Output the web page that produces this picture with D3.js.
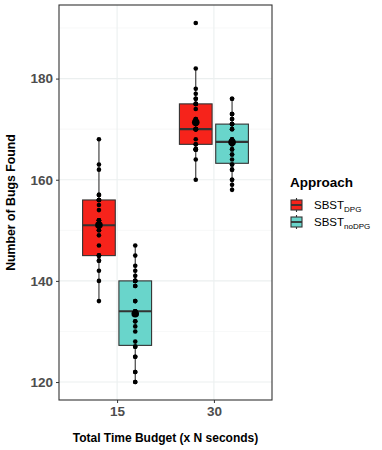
<!DOCTYPE html>
<html>
<head>
<meta charset="utf-8">
<script src="https://cdn.jsdelivr.net/npm/d3@7"></script>
<style>
  body { margin: 0; background: #fff; }
  text { font-family: "Liberation Sans", Arial, sans-serif; }
</style>
</head>
<body>
<script>
// budgets on the x axis and the two approaches
var budgets = ["15", "30"]
var approaches = ["SBST_DPG", "SBST_noDPG"]
var legendSubs = ["DPG", "noDPG"]
var yTicks = [120, 140, 160, 180]

// bugs found per run (30 runs per cell)
var dpg15 = [136, 140, 142, 144, 144, 145, 145, 145, 145, 147, 149, 150, 150, 151, 151,
             151, 152, 152, 152, 154, 155, 156, 156, 156, 156, 157, 157, 162, 163, 168]
var nodpg15 = [120, 120, 122, 122, 125, 125, 127, 127, 128, 130, 131, 132, 132, 134, 134,
               134, 134, 136, 136, 139, 139, 140, 140, 140, 140, 141, 142, 143, 145, 147]
var dpg30 = [160, 164, 166, 166, 166, 166, 166, 167, 167, 168, 170, 170, 170, 170, 170,
             170, 171, 171, 172, 172, 174, 175, 175, 175, 176, 176, 177, 178, 182, 191]
var nodpg30 = [158, 159, 160, 160, 162, 162, 163, 163, 164, 165, 165, 166, 166, 167, 167,
               168, 168, 170, 170, 171, 171, 171, 171, 172, 172, 173, 173, 173, 176, 176]

var colors = ["#F6231B", "#69D5CB"]

var groups = [
  {budget: "15", approach: "SBST_DPG", values: dpg15},
  {budget: "15", approach: "SBST_noDPG", values: nodpg15},
  {budget: "30", approach: "SBST_DPG", values: dpg30},
  {budget: "30", approach: "SBST_noDPG", values: nodpg30}
]

var width = 382, height = 450
var panel = {left: 59, right: 272, top: 5, bottom: 400}

var svg = d3.select("body").append("svg")
  .attr("width", width)
  .attr("height", height)

// scales
var allVals = [].concat(dpg15, nodpg15, dpg30, nodpg30)
var ext = d3.extent(allVals)
var pad = (ext[1] - ext[0]) * 0.05
var y = d3.scaleLinear().domain([ext[0] - pad, ext[1] + pad]).range([panel.bottom, panel.top])
var x = d3.scalePoint().domain(budgets).range([panel.left, panel.right]).padding(0.6)
var step = x.step()
var xSub = d3.scaleBand().domain(approaches)
  .range([-0.375 * step, 0.375 * step])
  .paddingInner(0.1).paddingOuter(0.05)
var color = d3.scaleOrdinal().domain(approaches).range(colors)

// grid
var minor = d3.range(130, 200, 20)
svg.append("g").selectAll("line").data(minor).enter().append("line")
  .attr("x1", panel.left).attr("x2", panel.right)
  .attr("y1", function(d){ return y(d) }).attr("y2", function(d){ return y(d) })
  .attr("stroke", "#F2F4F4").attr("stroke-width", 0.6)
svg.append("g").selectAll("line").data(yTicks).enter().append("line")
  .attr("x1", panel.left).attr("x2", panel.right)
  .attr("y1", function(d){ return y(d) }).attr("y2", function(d){ return y(d) })
  .attr("stroke", "#EBEFEF").attr("stroke-width", 1.1)
svg.append("g").selectAll("line").data(budgets).enter().append("line")
  .attr("y1", panel.top).attr("y2", panel.bottom)
  .attr("x1", function(d){ return x(d) }).attr("x2", function(d){ return x(d) })
  .attr("stroke", "#EBEFEF").attr("stroke-width", 1.1)

// box stats
groups.forEach(function(g){
  var v = g.values.slice().sort(d3.ascending)
  g.q1 = d3.quantile(v, 0.25)
  g.med = d3.quantile(v, 0.5)
  g.q3 = d3.quantile(v, 0.75)
  var iqr = g.q3 - g.q1
  g.lo = d3.min(v.filter(function(d){ return d >= g.q1 - 1.5 * iqr }))
  g.hi = d3.max(v.filter(function(d){ return d <= g.q3 + 1.5 * iqr }))
  g.mean = d3.mean(v)
  g.cx = x(g.budget) + xSub(g.approach) + xSub.bandwidth() / 2
})

var bw = xSub.bandwidth()
var boxes = svg.append("g").selectAll("g").data(groups).enter().append("g")

boxes.append("line")
  .attr("x1", function(d){ return d.cx }).attr("x2", function(d){ return d.cx })
  .attr("y1", function(d){ return y(d.hi) }).attr("y2", function(d){ return y(d.q3) })
  .attr("stroke", "#333").attr("stroke-width", 1.1)
boxes.append("line")
  .attr("x1", function(d){ return d.cx }).attr("x2", function(d){ return d.cx })
  .attr("y1", function(d){ return y(d.q1) }).attr("y2", function(d){ return y(d.lo) })
  .attr("stroke", "#333").attr("stroke-width", 1.1)
boxes.append("rect")
  .attr("x", function(d){ return d.cx - bw / 2 })
  .attr("width", bw)
  .attr("y", function(d){ return y(d.q3) })
  .attr("height", function(d){ return y(d.q1) - y(d.q3) })
  .attr("fill", function(d){ return color(d.approach) })
  .attr("stroke", "#333").attr("stroke-width", 1.1)
boxes.append("line")
  .attr("x1", function(d){ return d.cx - bw / 2 }).attr("x2", function(d){ return d.cx + bw / 2 })
  .attr("y1", function(d){ return y(d.med) }).attr("y2", function(d){ return y(d.med) })
  .attr("stroke", "#333").attr("stroke-width", 2.2)

// points
boxes.each(function(g){
  d3.select(this).selectAll("circle.pt").data(g.values).enter().append("circle")
    .attr("class", "pt")
    .attr("cx", g.cx)
    .attr("cy", function(d){ return y(d) })
    .attr("r", 2.3)
    .attr("fill", "#000")
})
// mean marker
boxes.append("circle")
  .attr("cx", function(d){ return d.cx })
  .attr("cy", function(d){ return y(d.mean) })
  .attr("r", 3.8)
  .attr("fill", "#000")

// panel border
svg.append("rect")
  .attr("x", panel.left).attr("y", panel.top)
  .attr("width", panel.right - panel.left).attr("height", panel.bottom - panel.top)
  .attr("fill", "none").attr("stroke", "#333").attr("stroke-width", 1.1)

// axes
var yAxis = svg.append("g")
  .attr("transform", "translate(" + panel.left + ",0)")
  .call(d3.axisLeft(y).tickValues(yTicks).tickSize(3).tickPadding(3))
yAxis.select(".domain").remove()
yAxis.selectAll("line").attr("stroke", "#333")
yAxis.selectAll("text").attr("font-size", 13.5).attr("font-weight", "bold")
  .attr("fill", "#4D4D4D").attr("font-family", "Liberation Sans, Arial, sans-serif")

var xAxis = svg.append("g")
  .attr("transform", "translate(0," + panel.bottom + ")")
  .call(d3.axisBottom(x).tickSize(3).tickPadding(3))
xAxis.select(".domain").remove()
xAxis.selectAll("line").attr("stroke", "#333")
xAxis.selectAll("text").attr("font-size", 13.5).attr("font-weight", "bold")
  .attr("fill", "#4D4D4D").attr("font-family", "Liberation Sans, Arial, sans-serif")

// axis titles
svg.append("text")
  .attr("x", (panel.left + panel.right) / 2).attr("y", 442)
  .attr("text-anchor", "middle")
  .attr("font-size", 12).attr("font-weight", "bold")
  .text("Total Time Budget (x N seconds)")
svg.append("text")
  .attr("transform", "translate(15," + (panel.top + panel.bottom) / 2 + ") rotate(-90)")
  .attr("text-anchor", "middle")
  .attr("font-size", 12.3).attr("font-weight", "bold")
  .text("Number of Bugs Found")

// legend
var legend = svg.append("g").attr("transform", "translate(290,0)")
legend.append("text")
  .attr("x", 0).attr("y", 187)
  .attr("font-size", 13.5).attr("font-weight", "bold")
  .text("Approach")
var items = legend.selectAll("g.item").data(approaches).enter().append("g")
  .attr("class", "item")
  .attr("transform", function(d, i){ return "translate(0," + (205 + i * 17) + ")" })
items.append("line")
  .attr("x1", 6.5).attr("x2", 6.5).attr("y1", -7).attr("y2", 7)
  .attr("stroke", "#333").attr("stroke-width", 1.1)
items.append("rect")
  .attr("x", 1).attr("y", -5).attr("width", 11).attr("height", 10)
  .attr("fill", function(d){ return color(d) })
  .attr("stroke", "#333").attr("stroke-width", 1.1)
items.append("line")
  .attr("x1", 1).attr("x2", 12).attr("y1", 0).attr("y2", 0)
  .attr("stroke", "#333").attr("stroke-width", 1.8)
var lt = items.append("text")
  .attr("x", 24).attr("y", 4)
  .attr("font-size", 11.5)
lt.append("tspan").text("SBST")
lt.append("tspan").attr("dy", 3).attr("font-size", 8)
  .text(function(d, i){ return legendSubs[i] })
</script>
</body>
</html>
